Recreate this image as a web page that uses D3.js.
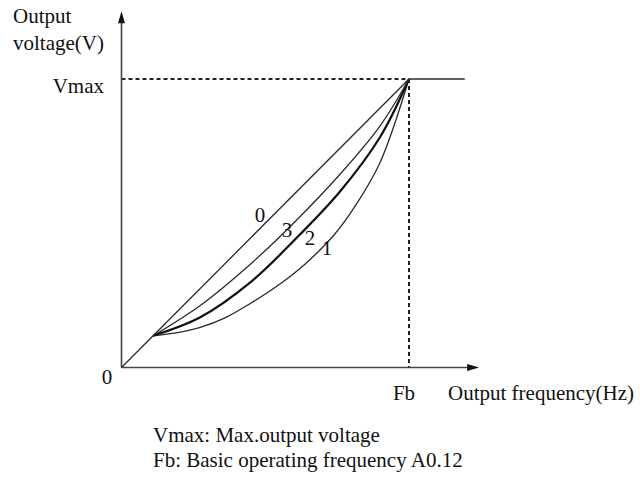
<!DOCTYPE html>
<html>
<head>
<meta charset="utf-8">
<script src="https://cdn.jsdelivr.net/npm/d3@7"></script>
<style>
  html, body { margin: 0; padding: 0; background: #fff; }
  svg text { font-family: "Liberation Serif", "DejaVu Serif", serif; fill: #111; }
</style>
</head>
<body>
<svg id="chart" width="640" height="479"></svg>
<script>
// V/F curve shapes: frequency and voltage both in % of Fb / Vmax
const curveNames = ["0", "1", "2", "3"];
const curve0 = [[0, 0], [100, 100]];
const curve1 = [[11, 11], [20, 12.2], [27.4, 13.9], [36, 17.2], [44.8, 22.2], [54.5, 28.5], [64, 36], [74, 46], [81.3, 56], [89.9, 71], [100, 100]];
const curve2 = [[11, 11], [27.4, 17.4], [44.8, 29.5], [60, 44], [76, 61], [89.9, 79.8], [100, 100]];
const curve3 = [[11, 11], [27.4, 21.5], [44.8, 35.8], [60, 50.2], [76, 67], [89.9, 83.7], [100, 100]];
const flatTop = [[100, 100], [119.4, 100]];
const labelPos = [[48.2, 50.4], [71.5, 39.0], [65.6, 42.5], [57.6, 45.2]]; // anchors for "0","1","2","3"
const yLabelLines = ["Output", "voltage(V)"];
const xLabel = "Output frequency(Hz)";
const vmaxLabel = "Vmax";
const fbLabel = "Fb";
const originLabel = "0";
const notes = ["Vmax: Max.output voltage", "Fb: Basic operating frequency A0.12"];

const svg = d3.select("#chart");
const x = d3.scaleLinear().domain([0, 100]).range([121.5, 409]);
const y = d3.scaleLinear().domain([0, 100]).range([367.5, 79]);
const xMax = 124.4, yMax = 123.5;

const smooth = d3.line().x(d => x(d[0])).y(d => y(d[1])).curve(d3.curveCatmullRom.alpha(0.5));
const straight = d3.line().x(d => x(d[0])).y(d => y(d[1]));

// dashed guides to Vmax / Fb
svg.append("path").attr("d", straight([[0, 100], [100, 100]]))
  .attr("stroke", "#222").attr("stroke-width", 2).attr("stroke-dasharray", "4,3").attr("fill", "none");
svg.append("path").attr("d", straight([[100, 100], [100, 0]]))
  .attr("stroke", "#222").attr("stroke-width", 2).attr("stroke-dasharray", "4,3").attr("fill", "none");

// axes with arrowheads
svg.append("line").attr("x1", x(0)).attr("y1", y(0)).attr("x2", x(0)).attr("y2", y(yMax) + 8)
  .attr("stroke", "#444").attr("stroke-width", 1.6);
svg.append("line").attr("x1", x(0)).attr("y1", y(0)).attr("x2", x(xMax) - 8).attr("y2", y(0))
  .attr("stroke", "#444").attr("stroke-width", 1.6);
svg.append("path")
  .attr("d", `M${x(0)},${y(yMax)} L${x(0) - 3.5},${y(yMax) + 12} L${x(0) + 3.5},${y(yMax) + 12} Z`)
  .attr("fill", "#111");
svg.append("path")
  .attr("d", `M${x(xMax)},${y(0)} L${x(xMax) - 12},${y(0) - 3.5} L${x(xMax) - 12},${y(0) + 3.5} Z`)
  .attr("fill", "#111");

// curves
const stroke = "#2a2a2a";
svg.append("path").attr("d", straight(curve0)).attr("stroke", stroke).attr("stroke-width", 1.3).attr("fill", "none");
svg.append("path").attr("d", smooth(curve1)).attr("stroke", stroke).attr("stroke-width", 1.3).attr("fill", "none");
svg.append("path").attr("d", smooth(curve2)).attr("stroke", "#111").attr("stroke-width", 2.2).attr("fill", "none");
svg.append("path").attr("d", smooth(curve3)).attr("stroke", stroke).attr("stroke-width", 1.3).attr("fill", "none");
svg.append("path").attr("d", straight(flatTop)).attr("stroke", stroke).attr("stroke-width", 1.6).attr("fill", "none");

// curve numbers
svg.selectAll("text.cn").data(curveNames).enter().append("text")
  .attr("class", "cn")
  .attr("x", (d, i) => x(labelPos[i][0]))
  .attr("y", (d, i) => y(labelPos[i][1]))
  .attr("text-anchor", "middle")
  .attr("font-size", 21)
  .text(d => d);

// axis texts
svg.append("text").attr("x", 13).attr("y", 23).attr("font-size", 21).text(yLabelLines[0]);
svg.append("text").attr("x", 13).attr("y", 50).attr("font-size", 21).text(yLabelLines[1]);
svg.append("text").attr("x", 104).attr("y", 93).attr("text-anchor", "end").attr("font-size", 21).text(vmaxLabel);
svg.append("text").attr("x", 107).attr("y", 384).attr("text-anchor", "middle").attr("font-size", 21).text(originLabel);
svg.append("text").attr("x", 404).attr("y", 400).attr("text-anchor", "middle").attr("font-size", 21).text(fbLabel);
svg.append("text").attr("x", 448).attr("y", 400).attr("font-size", 21).text(xLabel);

// notes
notes.forEach((t, i) => {
  svg.append("text").attr("x", 153).attr("y", 442 + i * 25).attr("font-size", 21).text(t);
});
</script>
</body>
</html>
